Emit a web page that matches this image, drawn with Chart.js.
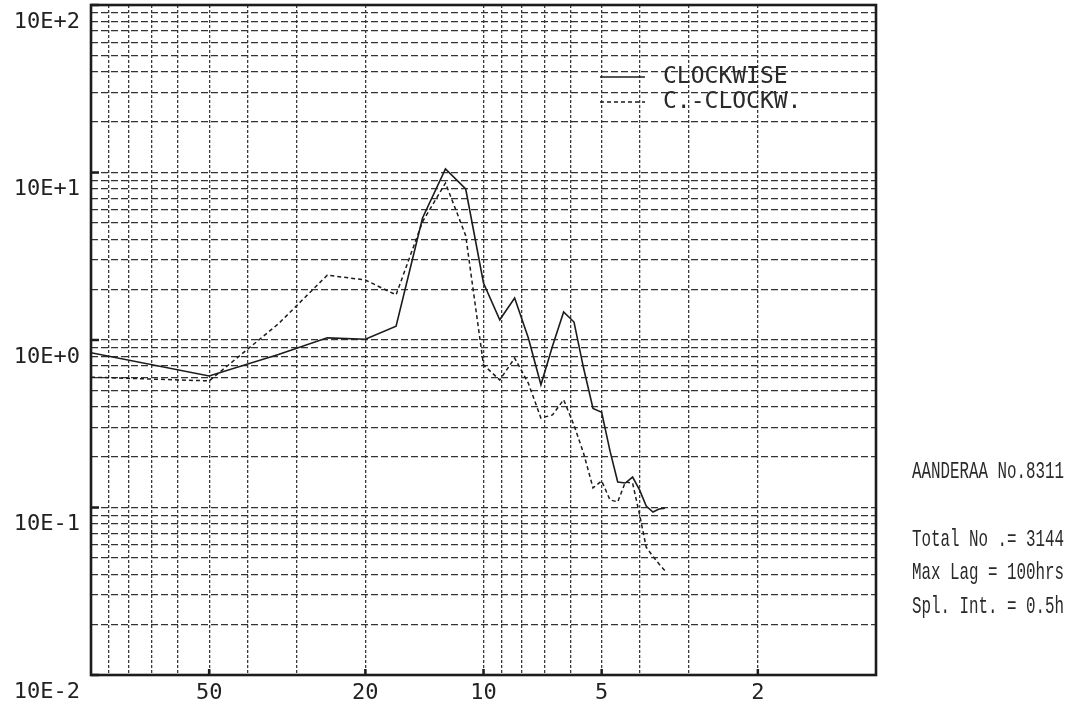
<!DOCTYPE html>
<html>
<head>
<meta charset="utf-8">
<script src="https://cdn.jsdelivr.net/npm/chart.js@4.4.1/dist/chart.umd.min.js"></script>
<style>
  body { margin: 0; background: #fff; }
  canvas { display: block; }
</style>
</head>
<body>
<canvas id="spectrum" width="1075" height="705"></canvas>
<script>
// periodos (horas) dos pontos do espectro
const periods = [100, 50, 33.3, 25, 20, 16.7, 14.3, 12.5, 11.1, 10, 9.09, 8.33, 7.69, 7.14,
  6.67, 6.25, 5.88, 5.56, 5.26, 5, 4.76, 4.55, 4.35, 4.17, 4, 3.85, 3.7, 3.57, 3.45];

// energia rotativa - sentido horario
const clockwise = [0.84, 0.61, 0.82, 1.03, 1.01, 1.21, 5.35, 10.5, 7.97, 2.19, 1.32, 1.78, 1.03, 0.54,
  0.92, 1.47, 1.28, 0.68, 0.39, 0.37, 0.217, 0.142, 0.14, 0.152, 0.127, 0.102, 0.094, 0.098, 0.099];

// energia rotativa - sentido anti-horario
const counterClockwise = [0.6, 0.57, 1.25, 2.44, 2.28, 1.86, 5.08, 8.66, 4.2, 0.71, 0.577, 0.78, 0.553, 0.342,
  0.357, 0.44, 0.31, 0.211, 0.131, 0.144, 0.111, 0.108, 0.142, 0.14, 0.09, 0.058, 0.051, 0.046, 0.042];

const seriesLabels = ["CLOCKWISE", "C.-CLOCKW."];

// ticks com rotulo
const xTickValues = [50, 20, 10, 5, 2];
const yTickValues = [0.01, 0.1, 1, 10, 100];
const yTickLabels = ["10E-2", "10E-1", "10E+0", "10E+1", "10E+2"];

// texto do lado direito
const notes = ["AANDERAA No.8311", "", "Total No .= 3144", "Max Lag = 100hrs", "Spl. Int. = 0.5h"];

// linhas de grade logaritmicas (1..9 x 10^k)
function logGrid(min, max) {
  let out = [];
  for (let d = min; d < max * 0.999; d *= 10) {
    for (let m = 1; m <= 9; m++) out.push(+(m * d).toPrecision(3));
  }
  out.push(max);
  return out;
}

const ink = "#1c1c1c";

const framePlugin = {
  id: "frame",
  beforeDraw(chart) {
    const ctx = chart.ctx;
    ctx.save();
    ctx.fillStyle = "#ffffff";
    ctx.fillRect(0, 0, chart.width, chart.height);
    ctx.restore();
  },
  afterDraw(chart) {
    const { ctx, chartArea: a, scales } = chart;
    ctx.save();
    ctx.setLineDash([]);
    ctx.strokeStyle = ink;
    ctx.lineWidth = 2.6;
    ctx.strokeRect(a.left, a.top, a.right - a.left, a.bottom - a.top);

    // pequenas marcas internas nos eixos
    ctx.lineWidth = 2.5;
    xTickValues.forEach((v) => {
      const px = scales.x.getPixelForValue(v);
      ctx.beginPath();
      ctx.moveTo(px, a.bottom);
      ctx.lineTo(px, a.bottom - 6);
      ctx.stroke();
    });
    yTickValues.forEach((v) => {
      const py = scales.y.getPixelForValue(v);
      ctx.beginPath();
      ctx.moveTo(a.left, py);
      ctx.lineTo(a.left + 8, py);
      ctx.stroke();
    });

    // legenda
    ctx.font = "23px 'DejaVu Sans Mono'";
    ctx.textBaseline = "middle";
    ctx.textAlign = "left";
    chart.data.datasets.forEach((ds, i) => {
      const ly = a.top + 72 + i * 25;
      ctx.strokeStyle = ds.borderColor;
      ctx.lineWidth = ds.borderWidth;
      ctx.setLineDash(ds.borderDash || []);
      ctx.beginPath();
      ctx.moveTo(a.left + 509, ly);
      ctx.lineTo(a.left + 554, ly);
      ctx.stroke();
      ctx.fillStyle = "#2a2a2a";
      ctx.fillText(ds.label, a.left + 572, ly);
    });

    // notas do lado direito
    ctx.setLineDash([]);
    ctx.fillStyle = "#2a2a2a";
    ctx.font = "24px 'Liberation Mono'";
    notes.forEach((t, i) => {
      if (!t) return;
      ctx.save();
      ctx.translate(a.right + 36, 472 + i * 33.7);
      ctx.scale(0.66, 1);
      ctx.fillText(t, 0, 0);
      ctx.restore();
    });
    ctx.restore();
  },
};

let canvas = document.getElementById("spectrum");
const config = {
  type: "line",
  plugins: [framePlugin],
  data: {
    datasets: [
      {
        label: seriesLabels[0],
        data: periods.map((p, i) => ({ x: p, y: clockwise[i] })),
        borderColor: ink,
        borderWidth: 1.6,
        pointRadius: 0,
        tension: 0,
      },
      {
        label: seriesLabels[1],
        data: periods.map((p, i) => ({ x: p, y: counterClockwise[i] })),
        borderColor: ink,
        borderWidth: 1.5,
        borderDash: [4, 3],
        pointRadius: 0,
        tension: 0,
      },
    ],
  },
  options: {
    responsive: false,
    animation: false,
    layout: { padding: { left: 0, right: 199, top: 5, bottom: 0 } },
    plugins: {
      legend: { display: false },
      tooltip: { enabled: false },
    },
    scales: {
      x: {
        type: "logarithmic",
        reverse: true,
        min: 1,
        max: 100,
        afterBuildTicks: (s) => { s.ticks = logGrid(1, 100).map((v) => ({ value: v })); },
        afterFit: (s) => { s.height = 30; s.paddingLeft = 0; s.paddingRight = 0; },
        grid: { color: "#3a3a3a", lineWidth: 1.3, drawTicks: false },
        border: { display: false, dash: [3, 2] },
        ticks: {
          autoSkip: false,
          maxRotation: 0,
          padding: 5,
          color: "#222",
          font: { family: "'DejaVu Sans Mono'", size: 22 },
          callback: (v) => (xTickValues.includes(v) ? String(v) : ""),
        },
      },
      y: {
        type: "logarithmic",
        min: 0.01,
        max: 100,
        afterBuildTicks: (s) => { s.ticks = logGrid(0.01, 100).map((v) => ({ value: v })); },
        afterFit: (s) => { s.width = 91; s.paddingTop = 0; s.paddingBottom = 0; },
        grid: { color: "#333", lineWidth: 1.3, drawTicks: false },
        border: { display: false, dash: [7, 3] },
        ticks: {
          autoSkip: false,
          padding: 11,
          labelOffset: 17,
          color: "#222",
          font: { family: "'DejaVu Sans Mono'", size: 22 },
          callback: (v) => {
            const k = yTickValues.indexOf(v);
            return k >= 0 ? yTickLabels[k] : "";
          },
        },
      },
    },
  },
};

let myChart = new Chart(canvas, config);
</script>
</body>
</html>
